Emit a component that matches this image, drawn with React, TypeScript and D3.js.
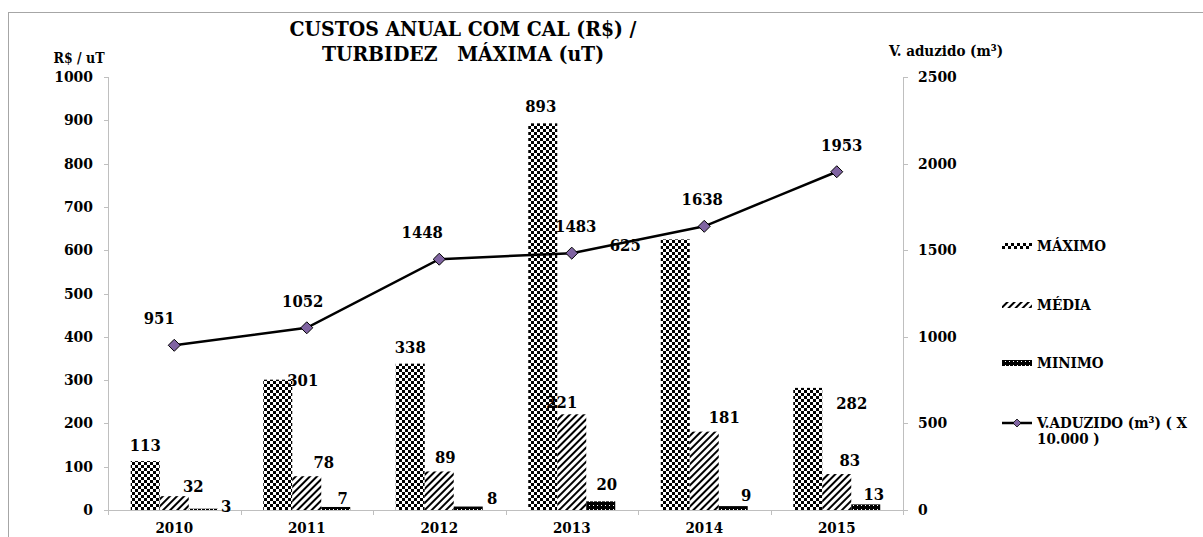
import React from "react";
import * as d3 from "d3";

const years = ["2010", "2011", "2012", "2013", "2014", "2015"];
const maximo = [113, 301, 338, 893, 625, 282];
const media = [32, 78, 89, 221, 181, 83];
const minimo = [3, 7, 8, 20, 9, 13];
const vAduzido = [951, 1052, 1448, 1483, 1638, 1953];
const leftTicks = [0, 100, 200, 300, 400, 500, 600, 700, 800, 900, 1000];
const rightTicks = [0, 500, 1000, 1500, 2000, 2500];
const seriesNames = ["MÁXIMO", "MÉDIA", "MINIMO"];

// label nudges (style: where the original labels were placed relative to their marks)
const nudgeMax = [[0, -10], [25, 6], [0, -11], [-2, -11], [-50, 12], [44, 21]];
const nudgeMed = [[19, -4], [17, -8], [6, -8], [-10, -6], [20, -9], [13, -8]];
const nudgeMin = [[23, 3], [7, -3], [24, -3], [6, -11], [13, -5], [8, -4]];
const nudgeLine = [[-15, -21], [-4, -21], [-17, -21], [4, -21], [-2, -21], [5, -21]];

const FONT = "'DejaVu Serif Condensed', 'DejaVu Serif', serif";
const AXIS = "#bfbfbf";

export default function App() {
  const W = 1203, H = 537;
  const x0 = 108, x1 = 903, yTop = 77, yBase = 510;
  const x = d3.scaleBand<string>().domain(years).range([x0, x1]).padding(0);
  const xs = d3.scaleBand<string>().domain(seriesNames).range([0, x.bandwidth()]).paddingInner(0).paddingOuter(0.785);
  const yL = d3.scaleLinear().domain([0, 1000]).range([yBase, yTop]);
  const yR = d3.scaleLinear().domain([0, 2500]).range([yBase, yTop]);
  const line = d3.line<number>().x((_, i) => x(years[i])! + x.bandwidth() / 2).y(d => yR(d));
  const series = [
    { name: "MÁXIMO", data: maximo, fill: "url(#pChk)", nudge: nudgeMax },
    { name: "MÉDIA", data: media, fill: "url(#pDiag)", nudge: nudgeMed },
    { name: "MINIMO", data: minimo, fill: "url(#pMin)", nudge: nudgeMin },
  ];
  const diamond = (cx: number, cy: number, r: number) => `M${cx},${cy - r}L${cx + r},${cy}L${cx},${cy + r}L${cx - r},${cy}Z`;
  const bw = xs.bandwidth();
  const boundaries = years.map(y => x(y)!).concat([x1]);

  return (
    <svg width={W} height={H} style={{ position: "absolute", left: 0, top: 0, background: "#fff", fontFamily: FONT, fontWeight: "bold", fontStretch: "condensed" }}>
      <defs>
        <pattern id="pChk" width="6" height="6" patternUnits="userSpaceOnUse">
          <rect width="6" height="6" fill="#fff" />
          <rect x="0" y="0" width="3" height="3" fill="#000" />
          <rect x="3" y="3" width="3" height="3" fill="#000" />
        </pattern>
        <pattern id="pDiag" width="5" height="5" patternUnits="userSpaceOnUse" patternTransform="rotate(45)">
          <rect width="5" height="5" fill="#fff" />
          <rect x="0" y="0" width="2" height="5" fill="#000" />
        </pattern>
        <pattern id="pMin" width="4" height="4" patternUnits="userSpaceOnUse">
          <rect width="4" height="4" fill="#000" />
          <rect x="1" y="1" width="1" height="1" fill="#fff" />
        </pattern>
      </defs>
      <rect x={8.5} y={12.5} width={1200} height={530} fill="#fff" stroke="#a6a6a6" />

      {/* title */}
      <text x={463} y={36} textAnchor="middle" fontSize={21}>CUSTOS ANUAL COM CAL (R$) /</text>
      <text x={463} y={61} textAnchor="middle" fontSize={21} style={{ whiteSpace: "pre" }}>{"TURBIDEZ   MÁXIMA (uT)"}</text>
      <text x={79} y={63} textAnchor="middle" fontSize={14}>R$ / uT</text>
      <text x={946} y={56} textAnchor="middle" fontSize={15}>V. aduzido (m³)</text>

      {/* left axis */}
      <line x1={x0 + 0.5} x2={x0 + 0.5} y1={yTop} y2={yBase} stroke={AXIS} />
      {leftTicks.map(t => (
        <g key={"l" + t}>
          <line x1={x0 - 4} x2={x0} y1={Math.round(yL(t)) + 0.5} y2={Math.round(yL(t)) + 0.5} stroke={AXIS} />
          <text x={93} y={yL(t) + 5} textAnchor="end" fontSize={15.5}>{t}</text>
        </g>
      ))}
      {/* right axis */}
      <line x1={x1 + 0.5} x2={x1 + 0.5} y1={yTop} y2={yBase + 4} stroke={AXIS} />
      {rightTicks.map(t => (
        <g key={"r" + t}>
          <line x1={x1} x2={x1 + 5} y1={Math.round(yR(t)) + 0.5} y2={Math.round(yR(t)) + 0.5} stroke={AXIS} />
          <text x={918} y={yR(t) + 5} textAnchor="start" fontSize={15.5}>{t}</text>
        </g>
      ))}

      {/* bars */}
      {series.map(s => (
        <g key={s.name}>
          {s.data.map((v, i) => (
            <rect key={i} x={x(years[i])! + xs(s.name)!} y={yL(v)} width={bw} height={yBase - yL(v)} fill={s.fill} />
          ))}
        </g>
      ))}

      {/* x axis */}
      <line x1={x0} x2={x1} y1={yBase + 0.5} y2={yBase + 0.5} stroke={AXIS} />
      {boundaries.map((b, i) => (
        <line key={"xt" + i} x1={Math.round(b) + 0.5} x2={Math.round(b) + 0.5} y1={yBase} y2={yBase + 5} stroke={AXIS} />
      ))}
      {years.map(y => (
        <text key={"xl" + y} x={x(y)! + x.bandwidth() / 2} y={533} textAnchor="middle" fontSize={15}>{y}</text>
      ))}

      {/* bar labels */}
      {series.map(s => (
        <g key={"lab" + s.name}>
          {s.data.map((v, i) => (
            <text key={i} x={x(years[i])! + xs(s.name)! + bw / 2 + s.nudge[i][0]} y={yL(v) + s.nudge[i][1]} textAnchor="middle" fontSize={16.5}>{v}</text>
          ))}
        </g>
      ))}

      {/* line */}
      <path d={line(vAduzido)!} fill="none" stroke="#000" strokeWidth={2.5} />
      {vAduzido.map((v, i) => {
        const cx = x(years[i])! + x.bandwidth() / 2;
        return (
          <g key={"pt" + i}>
            <path d={diamond(cx, yR(v), 6)} fill="#8064a2" stroke="#000" strokeWidth={1} />
            <text x={cx + nudgeLine[i][0]} y={yR(v) + nudgeLine[i][1]} textAnchor="middle" fontSize={16.5}>{v}</text>
          </g>
        );
      })}

      {/* legend */}
      <rect x={1002} y={243} width={30} height={6} fill="url(#pChk)" />
      <text x={1037} y={251} fontSize={15}>MÁXIMO</text>
      <rect x={1002} y={302} width={30} height={6} fill="url(#pDiag)" />
      <text x={1037} y={310} fontSize={15}>MÉDIA</text>
      <rect x={1002} y={360} width={30} height={6} fill="url(#pMin)" />
      <text x={1037} y={368} fontSize={15}>MINIMO</text>
      <line x1={1002} x2={1032} y1={423} y2={423} stroke="#000" strokeWidth={2.5} />
      <path d={diamond(1017, 423, 4)} fill="#8064a2" stroke="#000" strokeWidth={0.8} />
      <text x={1037} y={428} fontSize={15}>V.ADUZIDO (m³) ( X</text>
      <text x={1037} y={444} fontSize={15}>10.000 )</text>
    </svg>
  );
}
